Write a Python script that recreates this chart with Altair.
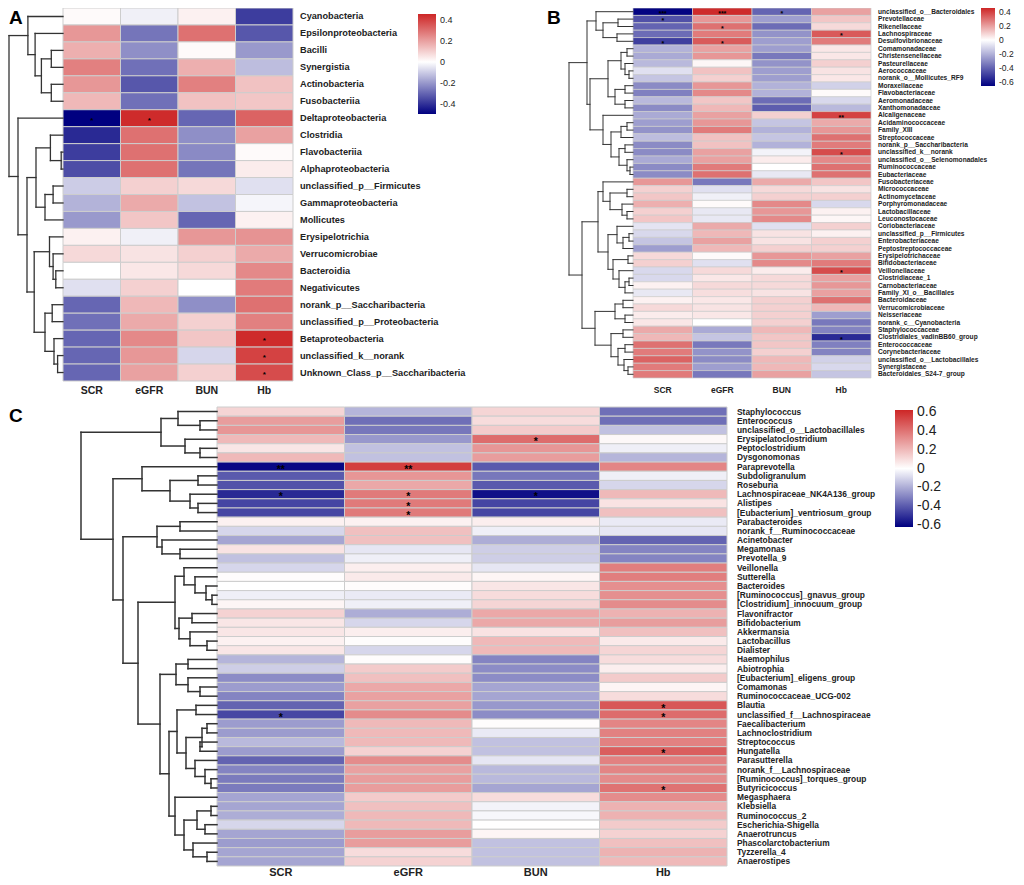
import altair as alt
import pandas as pd

COLS = ["SCR", "eGFR", "BUN", "Hb"]

# ---------------- Panel A (class level) ----------------
a_taxa = ["Cyanobacteria", "Epsilonproteobacteria", "Bacilli", "Synergistia", "Actinobacteria",
          "Fusobacteriia", "Deltaproteobacteria", "Clostridia", "Flavobacteriia", "Alphaproteobacteria",
          "unclassified_p__Firmicutes", "Gammaproteobacteria", "Mollicutes", "Erysipelotrichia",
          "Verrucomicrobiae", "Bacteroidia", "Negativicutes", "norank_p__Saccharibacteria",
          "unclassified_p__Proteobacteria", "Betaproteobacteria", "unclassified_k__norank",
          "Unknown_Class_p__Saccharibacteria"]
a_scr = [0.01, 0.22, 0.17, 0.27, 0.22, 0.15, -0.50, -0.42, -0.38, -0.35, -0.10, -0.15, -0.20, 0.03,
         0.08, 0.00, -0.06, -0.30, -0.28, -0.30, -0.30, -0.30]
a_egfr = [-0.03, -0.27, -0.22, -0.28, -0.33, -0.28, 0.45, 0.30, 0.30, 0.30, 0.10, 0.18, 0.12, -0.03,
          0.06, 0.05, 0.10, 0.15, 0.18, 0.25, 0.22, 0.20]
a_bun = [0.03, 0.30, 0.01, 0.17, 0.27, 0.13, -0.30, -0.22, -0.23, -0.27, 0.08, -0.12, -0.30, 0.22,
         0.10, 0.08, 0.00, -0.22, 0.10, 0.12, -0.08, 0.10]
a_hb = [-0.38, -0.33, -0.20, -0.13, 0.13, 0.12, 0.33, 0.20, 0.01, 0.04, -0.06, -0.02, 0.03, 0.23,
        0.18, 0.25, 0.28, 0.30, 0.27, 0.45, 0.40, 0.38]
a_star_row = [6, 6, 19, 20, 21]
a_star_col = ["SCR", "eGFR", "Hb", "Hb", "Hb"]
a_star_txt = ["*", "*", "*", "*", "*"]
# dendrogram: [merge height, left, right]; leaves are row indices
a_tree = [60,
          [39, 0, [31, 1, [24, [13, 2, 3], [13, 4, 5]]]],
          [50, 6, [40,
                   [30, [14, 7, [2, 8, 9]], [20, [11, 10, 11], 12]],
                   [32, [15, 13, [11, 14, [8, 15, 16]]], [20, [12, 17, 18], [10, 19, [6, 20, 21]]]]]]]

# ---------------- Panel B (family level) ----------------
b_taxa = ["unclassified_o__Bacteroidales", "Prevotellaceae", "Rikenellaceae", "Lachnospiraceae",
          "Desulfovibrionaceae", "Comamonadaceae", "Christensenellaceae", "Pasteurellaceae",
          "Aerococcaceae", "norank_o__Mollicutes_RF9", "Moraxellaceae", "Flavobacteriaceae",
          "Aeromonadaceae", "Xanthomonadaceae", "Alcaligenaceae", "Acidaminococcaceae", "Family_XIII",
          "Streptococcaceae", "norank_p__Saccharibacteria", "unclassified_k__norank",
          "unclassified_o__Selenomonadales", "Ruminococcaceae", "Eubacteriaceae", "Fusobacteriaceae",
          "Micrococcaceae", "Actinomycetaceae", "Porphyromonadaceae", "Lactobacillaceae",
          "Leuconostocaceae", "Coriobacteriaceae", "unclassified_p__Firmicutes", "Enterobacteriaceae",
          "Peptostreptococcaceae", "Erysipelotrichaceae", "Bifidobacteriaceae", "Veillonellaceae",
          "Clostridiaceae_1", "Carnobacteriaceae", "Family_XI_o__Bacillales", "Bacteroidaceae",
          "Verrucomicrobiaceae", "Neisseriaceae", "norank_c__Cyanobacteria", "Staphylococcaceae",
          "Clostridiales_vadinBB60_group", "Enterococcaceae", "Corynebacteriaceae",
          "unclassified_o__Lactobacillales", "Synergistaceae", "Bacteroidales_S24-7_group"]
b_scr = [-0.65, -0.45, -0.40, -0.38, -0.50, -0.20, -0.22, -0.18, -0.08, -0.15, -0.30, -0.33, -0.18,
         -0.30, -0.22, -0.25, -0.28, -0.17, -0.30, -0.30, -0.22, -0.30, -0.30, 0.22, 0.10, 0.12, 0.17,
         0.10, 0.12, -0.07, -0.10, -0.15, -0.25, 0.08, 0.10, -0.10, -0.10, 0.03, -0.06, 0.03, 0.08,
         0.04, 0.05, 0.18, 0.15, 0.30, 0.28, 0.33, 0.28, 0.28]
b_egfr = [0.45, 0.22, 0.30, 0.28, 0.35, 0.20, 0.22, 0.02, 0.13, 0.10, 0.22, 0.25, 0.12, 0.15, 0.20,
          0.22, 0.28, 0.13, 0.13, 0.20, 0.20, 0.28, 0.30, -0.35, -0.08, -0.04, 0.01, -0.06, -0.06,
          0.18, 0.15, 0.20, 0.15, 0.01, -0.08, 0.08, 0.05, 0.08, 0.07, 0.05, 0.06, 0.05, 0.00, -0.22,
          -0.15, -0.35, -0.28, -0.30, -0.25, -0.35]
b_bun = [-0.40, -0.25, -0.38, -0.28, -0.25, -0.25, -0.35, -0.28, -0.25, -0.25, -0.20, -0.20, -0.38,
         -0.42, 0.10, -0.15, -0.20, -0.15, -0.20, -0.03, 0.04, 0.00, -0.06, 0.18, 0.08, 0.10, 0.25,
         0.22, 0.25, -0.08, 0.06, 0.06, 0.10, 0.22, 0.25, 0.04, 0.08, 0.08, 0.06, 0.10, 0.10, 0.10,
         0.10, 0.15, 0.12, 0.12, 0.10, 0.15, 0.15, 0.20]
b_hb = [0.20, 0.12, 0.08, 0.35, 0.28, 0.05, 0.05, 0.10, 0.06, 0.05, -0.12, 0.01, -0.10, -0.18, 0.40,
        0.18, 0.22, 0.30, 0.28, 0.38, 0.25, 0.30, 0.30, 0.12, 0.06, 0.10, -0.10, 0.03, 0.02, 0.10,
        0.03, 0.10, 0.10, 0.20, 0.28, 0.38, 0.20, 0.22, 0.20, 0.30, 0.15, -0.25, -0.35, -0.32, -0.55,
        -0.33, -0.32, -0.12, -0.10, -0.15]
b_star_row = [0, 0, 0, 1, 2, 3, 4, 4, 14, 19, 35, 44]
b_star_col = ["SCR", "eGFR", "BUN", "SCR", "eGFR", "Hb", "SCR", "eGFR", "Hb", "Hb", "Hb", "Hb"]
b_star_txt = ["***", "***", "*", "*", "*", "*", "*", "*", "**", "*", "*", "*"]
b_tree = [64,
          [46,
           [37, 0, [30, [15, 1, 2], [16, 3, 4]]],
           [43,
            [25, [12, [6, 5, 6], [8, 7, [4, 8, 9]]], [18, [8, 10, 11], [8, 12, 13]]],
            [30, 14, [22, [12, [6, 15, 16], 17], [14, [8, 18, 19], [6, 20, [3, 21, 22]]]]]]],
          [51,
           [35,
            [30, 23, [23, [6, 24, 25], [11, 26, [6, 27, 28]]]],
            [25, [16, 29, [10, [4, 30, 31], 32]], [20, [5, 33, 34], [14, 35, [8, [4, 36, 37], 38]]]]],
           [38, [18, [10, 39, 40], [8, 41, 42]],
            [22, [10, 43, 44], [15, [8, 45, 46], [9, 47, [5, 48, 49]]]]]]]

# ---------------- Panel C (genus level) ----------------
c_taxa = ["Staphylococcus", "Enterococcus", "unclassified_o__Lactobacillales", "Erysipelatoclostridium",
          "Peptoclostridium", "Dysgonomonas", "Paraprevotella", "Subdoligranulum", "Roseburia",
          "Lachnospiraceae_NK4A136_group", "Alistipes", "[Eubacterium]_ventriosum_group",
          "Parabacteroides", "norank_f__Ruminococcaceae", "Acinetobacter", "Megamonas", "Prevotella_9",
          "Veillonella", "Sutterella", "Bacteroides", "[Ruminococcus]_gnavus_group",
          "[Clostridium]_innocuum_group", "Flavonifractor", "Bifidobacterium", "Akkermansia",
          "Lactobacillus", "Dialister", "Haemophilus", "Abiotrophia", "[Eubacterium]_eligens_group",
          "Comamonas", "Ruminococcaceae_UCG-002", "Blautia", "unclassified_f__Lachnospiraceae",
          "Faecalibacterium", "Lachnoclostridium", "Streptococcus", "Hungatella", "Parasutterella",
          "norank_f__Lachnospiraceae", "[Ruminococcus]_torques_group", "Butyricicoccus", "Megasphaera",
          "Klebsiella", "Ruminococcus_2", "Escherichia-Shigella", "Anaerotruncus",
          "Phascolarctobacterium", "Tyzzerella_4", "Anaerostipes"]
c_scr = [0.12, 0.28, 0.30, 0.20, 0.07, 0.20, -0.60, -0.40, -0.42, -0.52, -0.45, -0.45, 0.04, -0.10,
         -0.22, 0.08, -0.15, -0.10, 0.01, 0.00, -0.04, 0.03, 0.13, 0.07, 0.07, 0.04, 0.07, -0.18,
         -0.12, -0.28, -0.24, -0.30, -0.38, -0.45, -0.24, -0.24, -0.17, -0.24, -0.38, -0.30, -0.32,
         -0.32, -0.22, -0.22, -0.20, -0.10, -0.22, -0.24, -0.22, -0.22]
c_egfr = [-0.18, -0.35, -0.33, -0.25, -0.15, -0.15, 0.55, 0.30, 0.25, 0.38, 0.38, 0.38, 0.04, 0.18,
          0.18, -0.06, -0.04, 0.05, 0.06, 0.01, -0.05, -0.04, -0.20, -0.10, 0.05, 0.01, -0.10, 0.01,
          0.15, 0.18, 0.25, 0.27, 0.27, 0.33, 0.20, 0.20, 0.20, 0.13, 0.33, 0.27, 0.28, 0.28, 0.15,
          0.18, 0.20, 0.20, 0.28, 0.28, 0.10, 0.13]
c_bun = [0.12, 0.10, 0.15, 0.42, 0.30, 0.28, -0.40, -0.33, -0.40, -0.58, -0.45, -0.45, 0.05, -0.04,
         -0.20, -0.12, -0.12, -0.06, 0.03, 0.07, 0.10, 0.12, 0.25, 0.25, 0.08, 0.20, 0.20, -0.30,
         -0.28, -0.28, -0.22, -0.22, -0.25, -0.28, 0.01, -0.05, -0.15, -0.15, -0.06, -0.17, -0.17,
         -0.22, 0.10, -0.03, -0.02, 0.00, 0.03, -0.15, -0.15, -0.15]
c_hb = [-0.35, -0.35, -0.15, 0.02, -0.04, -0.18, 0.35, -0.04, -0.10, 0.20, 0.08, 0.18, -0.05, -0.06,
        -0.38, -0.30, -0.30, 0.37, 0.37, 0.32, 0.32, 0.33, 0.22, 0.28, 0.18, 0.06, 0.12, 0.10, 0.05,
        0.15, 0.03, 0.10, 0.48, 0.42, 0.35, 0.36, 0.36, 0.46, 0.36, 0.35, 0.33, 0.40, 0.33, 0.22,
        0.22, 0.15, 0.13, 0.18, 0.22, 0.20]
c_star_row = [3, 6, 6, 9, 9, 9, 10, 11, 32, 33, 33, 37, 41]
c_star_col = ["BUN", "SCR", "eGFR", "SCR", "eGFR", "BUN", "eGFR", "eGFR", "Hb", "SCR", "Hb", "Hb", "Hb"]
c_star_txt = ["*", "**", "**", "*", "*", "*", "*", "*", "*", "*", "*", "*", "*"]
c_tree = [136,
          [56, [39, 0, [17, 1, 2]], [32, 3, [17, 4, 5]]],
          [104,
           [75, 6, [47, [19, 7, 8], [27, 9, [19, 10, 11]]]],
           [94,
            [60, [37, 12, 13], [55, 14, [37, 15, 16]]],
            [79,
             [42, [33, 17, [22, 18, [11, 19, [5, 20, 21]]]],
                  [38, [25, 22, 23], [27, 24, [10, 25, 26]]]],
             [57,
              [41, [29, 27, 28], [29, 29, [17, 30, 31]]],
              [48,
               [40, [21, 32, 33], [31, [15, [10, 34, 35], [17, 36, 37]],
                                   [22, 38, [12, 39, [6, 40, 41]]]]],
               [42, 42, [33, [20, [6, 43, 44], [12, 45, 46]], [24, 47, [10, 48, 49]]]]]]]]]]

# ---------------- layout / style (page pixels) ----------------
M = 8
FONT = "Liberation Sans"
NAVY, WHITE, RED = "#000080", "#ffffff", "#cd2626"

LAY_A = dict(x0=63, x1=293, y0=8, y1=381, root=9, lo=-0.50, hi=0.46, sw=1.0, dw=1.3,
             leg=(418, 14, 100, 18, 9), ticks=[0.4, 0.2, 0, -0.2, -0.4],
             lfs=9.2, lw="bold", ldx=7, cfs=10.5, cdy=9.5, sfs=8, sdy=2.5)
LAY_B = dict(x0=633, x1=871, y0=8, y1=378, root=569, lo=-0.66, hi=0.46, sw=0.7, dw=1.0,
             leg=(981, 8, 78, 14, 8.5), ticks=[0.4, 0.2, 0, -0.2, -0.4, -0.6],
             lfs=6.6, lw="bold", ldx=7, cfs=8.5, cdy=12, sfs=7, sdy=2.2)
LAY_C = dict(x0=217, x1=727, y0=407, y1=866, root=81, lo=-0.62, hi=0.62, sw=1.0, dw=1.5,
             leg=(895, 410, 117, 18, 14), ticks=[0.6, 0.4, 0.2, 0, -0.2, -0.4, -0.6],
             lfs=8.4, lw="bold", ldx=10, cfs=11, cdy=7, sfs=10.5, sdy=3.2)


def tree_segments(tree):
    segs = []

    def walk(node):
        if isinstance(node, int):
            return node + 0.5, 0.0
        h, left, right = node
        yl, hl = walk(left)
        yr, hr = walk(right)
        segs.append((h, h, yl, yr))
        segs.append((hl, h, yl, yl))
        segs.append((hr, h, yr, yr))
        return (yl + yr) / 2.0, h

    walk(tree)
    return pd.DataFrame(segs, columns=["h1", "h2", "y1", "y2"])


def panel(taxa, values, srow, scol, stxt, tree, lay):
    n = len(taxa)
    long = pd.DataFrame({
        "taxon": [t for t in taxa for c in COLS],
        "var": [c for t in taxa for c in COLS],
        "r": [values[c][i] for i in range(n) for c in COLS],
    })
    half_w = (lay["x1"] - lay["x0"]) / len(COLS) / 2.0
    half_h = (lay["y1"] - lay["y0"]) / n / 2.0
    xs = alt.Scale(domain=COLS, range=[lay["x0"] - M, lay["x1"] - M], paddingInner=0, paddingOuter=0)
    ys = alt.Scale(domain=taxa, range=[lay["y0"] - M, lay["y1"] - M], paddingInner=0, paddingOuter=0)
    X = alt.X("var:N", scale=xs, axis=None)
    Y = alt.Y("taxon:N", scale=ys, axis=None)
    lx, ly, glen, gth, lfs = lay["leg"]

    heat = alt.Chart(long).mark_rect(stroke="#cdcdcd", strokeWidth=lay["sw"]).encode(
        x=X, y=Y,
        color=alt.Color(
            "r:Q", title=None,
            scale=alt.Scale(domain=[lay["lo"], 0, lay["hi"]], range=[NAVY, WHITE, RED],
                            interpolate="rgb", clamp=True),
            legend=alt.Legend(orient="none", legendX=lx - M, legendY=ly - M, direction="vertical",
                              gradientLength=glen, gradientThickness=gth, gradientStrokeWidth=0,
                              values=lay["ticks"], labelFontSize=lfs, labelFont=FONT,
                              labelExpr="replace(format(datum.value, '.1~f'), '\u2212', '-')",
                              labelColor="#222222", labelOffset=4, labelOverlap=False)),
    )

    stars = alt.Chart(pd.DataFrame({
        "taxon": [taxa[i] for i in srow], "var": scol, "s": stxt,
    })).mark_text(baseline="middle", dy=lay["sdy"], fontSize=lay["sfs"], font=FONT,
                  fontWeight="bold", color="#000000").encode(x=X, y=Y, text="s:N")

    rowlab = alt.Chart(pd.DataFrame({"taxon": taxa, "var": [COLS[-1]] * n})).mark_text(
        align="left", baseline="middle", dx=half_w + lay["ldx"], fontSize=lay["lfs"], font=FONT,
        fontWeight=lay["lw"], color="#222222"
    ).encode(x=X, y=Y, text="taxon:N")

    collab = alt.Chart(pd.DataFrame({"var": COLS, "taxon": [taxa[-1]] * 4})).mark_text(
        align="center", baseline="middle", dy=half_h + lay["cdy"], fontSize=lay["cfs"], font=FONT,
        fontWeight="bold", color="#222222"
    ).encode(x=X, y=Y, text="var:N")

    seg = tree_segments(tree)
    dendro = alt.Chart(seg).mark_rule(color="#333333", strokeWidth=lay["dw"], strokeCap="square").encode(
        x=alt.X("h1:Q", scale=alt.Scale(domain=[0, tree[0]], range=[lay["x0"] - M, lay["root"] - M],
                                        nice=False, zero=False), axis=None),
        x2="h2:Q",
        y=alt.Y("y1:Q", scale=alt.Scale(domain=[0, n], range=[lay["y0"] - M, lay["y1"] - M],
                                        nice=False, zero=False), axis=None),
        y2="y2:Q",
    )
    return [heat, stars, rowlab, collab, dendro]


layers = []
layers += panel(a_taxa, {"SCR": a_scr, "eGFR": a_egfr, "BUN": a_bun, "Hb": a_hb},
                a_star_row, a_star_col, a_star_txt, a_tree, LAY_A)
layers += panel(b_taxa, {"SCR": b_scr, "eGFR": b_egfr, "BUN": b_bun, "Hb": b_hb},
                b_star_row, b_star_col, b_star_txt, b_tree, LAY_B)
layers += panel(c_taxa, {"SCR": c_scr, "eGFR": c_egfr, "BUN": c_bun, "Hb": c_hb},
                c_star_row, c_star_col, c_star_txt, c_tree, LAY_C)

for letter, lxp, lyp in [("A", 9, 24), ("B", 547, 24), ("C", 9, 422)]:
    layers.append(
        alt.Chart(pd.DataFrame({"t": [letter]})).mark_text(
            align="left", baseline="alphabetic", fontSize=19, font=FONT, fontWeight="bold", color="#000000"
        ).encode(text="t:N", x=alt.value(lxp - M), y=alt.value(lyp - M))
    )

chart = alt.layer(*layers).resolve_scale(
    x="independent", y="independent", color="independent"
).properties(
    width=1008, height=869, padding=0, autosize=alt.AutoSizeParams(type="none")
).configure_view(strokeWidth=0)

chart.save("out.html", embed_options={"renderer": "svg", "actions": False})
